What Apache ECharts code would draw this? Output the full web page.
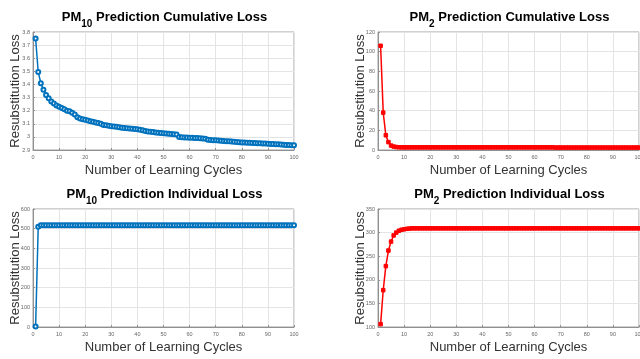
<!DOCTYPE html>
<html><head><meta charset="utf-8">
<script src="https://cdn.jsdelivr.net/npm/echarts@6/dist/echarts.min.js"></script>
<style>html,body{margin:0;padding:0;background:#fff}#c{width:640px;height:359px}</style>
</head><body><div id="c"></div>
<script>
const cycles = Array.from({length:100},(_,i)=>i+1);
const pm10Cumulative = [3.75,3.495,3.41,3.36,3.32,3.295,3.27,3.255,3.24,3.23,
3.22,3.21,3.20,3.195,3.185,3.17,3.15,3.14,3.135,3.13,
3.125,3.12,3.115,3.11,3.105,3.10,3.09,3.088,3.085,3.082,
3.08,3.077,3.073,3.07,3.068,3.066,3.064,3.062,3.06,3.058,
3.055,3.05,3.045,3.042,3.04,3.037,3.034,3.032,3.03,3.028,
3.026,3.024,3.022,3.02,3.018,3.0,2.998,2.996,2.995,2.994,
2.993,2.992,2.991,2.99,2.988,2.985,2.978,2.976,2.975,2.974,
2.972,2.97,2.968,2.967,2.966,2.965,2.963,2.961,2.96,2.958,
2.957,2.956,2.955,2.954,2.953,2.952,2.951,2.95,2.949,2.948,
2.946,2.945,2.944,2.943,2.942,2.94,2.939,2.938,2.937,2.936];
const pm2Cumulative = [106,38,15,8,4.5,3.5,3.0,2.8,2.7,2.7,
2.7,2.7,2.7,2.7,2.7,2.7,2.7,2.7,2.7,2.7,
2.7,2.7,2.7,2.7,2.7,2.7,2.7,2.7,2.7,2.7,
2.7,2.7,2.7,2.7,2.7,2.7,2.7,2.7,2.7,2.7,
2.7,2.7,2.7,2.7,2.7,2.7,2.7,2.7,2.7,2.7,
2.7,2.7,2.7,2.7,2.7,2.7,2.7,2.7,2.7,2.7,
2.7,2.7,2.7,2.7,2.7,2.7,2.7,2.5,2.5,2.5,
2.5,2.5,2.5,2.5,2.5,2.5,2.5,2.5,2.5,2.5,
2.5,2.5,2.5,2.5,2.5,2.5,2.5,2.5,2.5,2.5,
2.5,2.5,2.5,2.5,2.5,2.5,2.5,2.5,2.5,2.5];
const pm10Individual = [3,510,517,518,518,518,518,518,518,518,
518,518,518,518,518,518,518,518,518,518,
518,518,518,518,518,518,518,518,518,518,
518,518,518,518,518,518,518,518,518,518,
518,518,518,518,518,518,518,518,518,518,
518,518,518,518,518,518,518,518,518,518,
518,518,518,518,518,518,518,518,518,518,
518,518,518,518,518,518,518,518,518,518,
518,518,518,518,518,518,518,518,518,518,
518,518,518,518,518,518,518,518,518,518];
const pm2Individual = [106,178,229,262,281,294,300,304,306,307,
308,308.5,309,309,309,309,309,309,309,309,
309,309,309,309,309,309,309,309,309,309,
309,309,309,309,309,309,309,309,309,309,
309,309,309,309,309,309,309,309,309,309,
309,309,309,309,309,309,309,309,309,309,
309,309,309,309,309,309,309,309,309,309,
309,309,309,309,309,309,309,309,309,309,
309,309,309,309,309,309,309,309,309,309,
309,309,309,309,309,309,309,309,309,309];
const titles = [['10',' Prediction Cumulative Loss'],['2',' Prediction Cumulative Loss'],['10',' Prediction Individual Loss'],['2',' Prediction Individual Loss']];
const yRanges = [[2.9,3.8,0.1],[0,120,20],[0,600,100],[100,350,50]];
const xName = 'Number of Learning Cycles';
const yName = 'Resubstitution Loss';

const grids = [
  {left:33, top:32, width:261, height:118},
  {left:378, top:32, width:261, height:118},
  {left:33, top:209, width:261, height:118},
  {left:378, top:209, width:261, height:118}
];
const BLUE = '#0072BD', RED = '#FF0000';
const seriesData = [pm10Cumulative, pm2Cumulative, pm10Individual, pm2Individual];
const colors = [BLUE, RED, BLUE, RED];
const font = 'Liberation Sans, Arial, sans-serif';

const chart = echarts.init(document.getElementById('c'), null, {renderer:'canvas'});
chart.setOption({
  animation:false,
  backgroundColor:'#fff',
  title: grids.map((g,i)=>({
    text:'{a|PM}{s|'+titles[i][0]+'}{a|'+titles[i][1]+'}',
    left: g.left + g.width/2 - 4, top: (i<2?6:183), textAlign:'center',
    textStyle:{rich:{
      a:{fontSize:13, fontWeight:'bold', color:'#000', fontFamily:font, verticalAlign:'top', lineHeight:16},
      s:{fontSize:10, fontWeight:'bold', color:'#000', fontFamily:font, padding:[8,0,0,0], verticalAlign:'top', lineHeight:12}
    }}
  })),
  grid: grids.map(g=>Object.assign({show:true, borderColor:'#a0a0a0', borderWidth:1, backgroundColor:'#fff', outerBoundsMode:'none', containLabel:false}, g)),
  xAxis: grids.map((g,i)=>({
    type:'value', gridIndex:i, min:0, max:100, interval:10,
    name:xName, nameLocation:'middle', nameGap:14, nameMoveOverlap:false,
    nameTextStyle:{fontSize:13, color:'#333', fontFamily:font},
    axisLine:{show:true, lineStyle:{color:'#909090'}},
    axisTick:{show:true, inside:true, length:2, lineStyle:{color:'#909090'}},
    axisLabel:{fontSize:5.5, color:'#666', margin:4, fontFamily:font},
    splitLine:{show:true, lineStyle:{color:'#e4e4e4', width:1}}
  })),
  yAxis: grids.map((g,i)=>({
    type:'value', gridIndex:i, min:yRanges[i][0], max:yRanges[i][1], interval:yRanges[i][2],
    name:yName, nameLocation:'middle', nameGap:11, nameMoveOverlap:false,
    nameTextStyle:{fontSize:13, color:'#333', fontFamily:font},
    axisLine:{show:true, lineStyle:{color:'#909090'}},
    axisTick:{show:true, inside:true, length:2, lineStyle:{color:'#909090'}},
    axisLabel:{fontSize:5.5, color:'#666', margin:3, fontFamily:font, formatter:v=>String(Math.round(v*10)/10)},
    splitLine:{show:true, lineStyle:{color:'#e4e4e4', width:1}}
  })),
  series: seriesData.map((d,i)=>({
    type:'line', xAxisIndex:i, yAxisIndex:i,
    data: cycles.map((c,k)=>[c,d[k]]),
    symbol: colors[i]===BLUE ? 'emptyCircle' : 'rect',
    symbolSize: colors[i]===BLUE ? 4 : 3.5,
    showAllSymbol:true,
    lineStyle:{color:colors[i], width:1.5},
    itemStyle:{color:colors[i], borderColor:colors[i], borderWidth:1},
    clip:true
  }))
});
</script></body></html>
